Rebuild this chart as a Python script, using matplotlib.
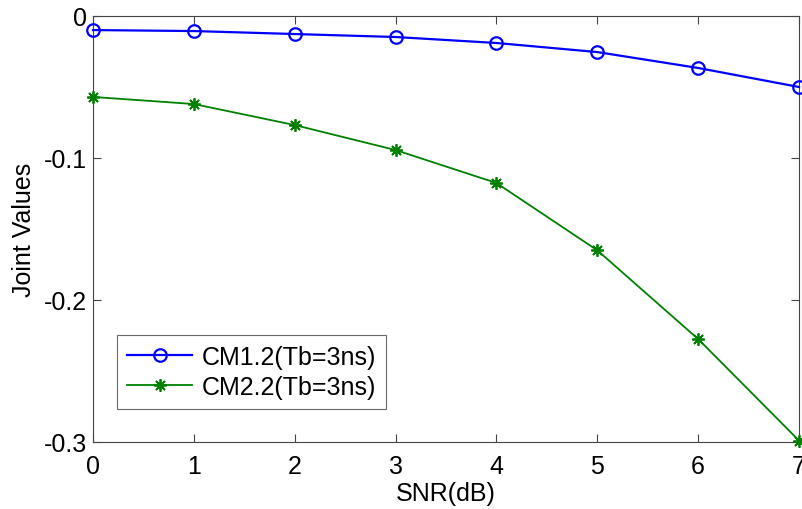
import matplotlib
matplotlib.use("Agg")
import matplotlib.pyplot as plt

snr = [0, 1, 2, 3, 4, 5, 6, 7]
cm1 = [-0.0099, -0.0106, -0.0127, -0.0148, -0.019, -0.0254, -0.0366, -0.050]
cm2 = [-0.057, -0.062, -0.0768, -0.0944, -0.1176, -0.165, -0.2275, -0.299]
labels = ["CM1.2(Tb=3ns)", "CM2.2(Tb=3ns)"]
yticks = [-0.3, -0.2, -0.1, 0]
ytick_labels = ["-0.3", "-0.2", "-0.1", "0"]

plt.rcParams['font.family'] = ['Liberation Sans', 'DejaVu Sans']
plt.rcParams['axes.unicode_minus'] = False
fig = plt.figure(figsize=(8.02, 5.10), dpi=100)
ax = fig.add_axes([93/802, 1-443/510, (799-93)/802, (443-17)/510])

ax.plot(snr, cm1, color='#0000ff', lw=1.6, marker='o', ms=9, mfc='none', mew=1.6,
        label=labels[0], clip_on=False, zorder=3)
ax.plot(snr, cm2, color='#008000', lw=1.3, marker=(8, 2, 0), ms=9, mfc='#008000',
        mec='#008000', mew=1.3, label=labels[1], clip_on=False, zorder=3)

ax.set_xlim(0, 7)
ax.set_ylim(-0.3, 0)
ax.set_xticks(snr)
ax.set_yticks(yticks)
ax.set_yticklabels(ytick_labels)
ax.tick_params(direction='in', top=True, right=True, labelsize=18, length=6, width=0.8,
               color='#444444')
ax.tick_params(axis='x', pad=9)
ax.tick_params(axis='y', pad=4)
for s in ax.spines.values():
    s.set_color('#444444')
    s.set_linewidth(0.8)
ax.set_xlabel('SNR(dB)', fontsize=18, labelpad=2)
ax.set_ylabel('Joint Values', fontsize=18, labelpad=6)

leg = ax.legend(loc='lower left', bbox_to_anchor=((117-93)/706, (443-410)/426),
                fontsize=18, frameon=True, fancybox=False, borderaxespad=0,
                handlelength=2.6, borderpad=0.4, labelspacing=0.25, handletextpad=0.4)
leg.get_frame().set_edgecolor('#444444')
leg.get_frame().set_linewidth(0.8)

fig.savefig('out.png', dpi=100)
